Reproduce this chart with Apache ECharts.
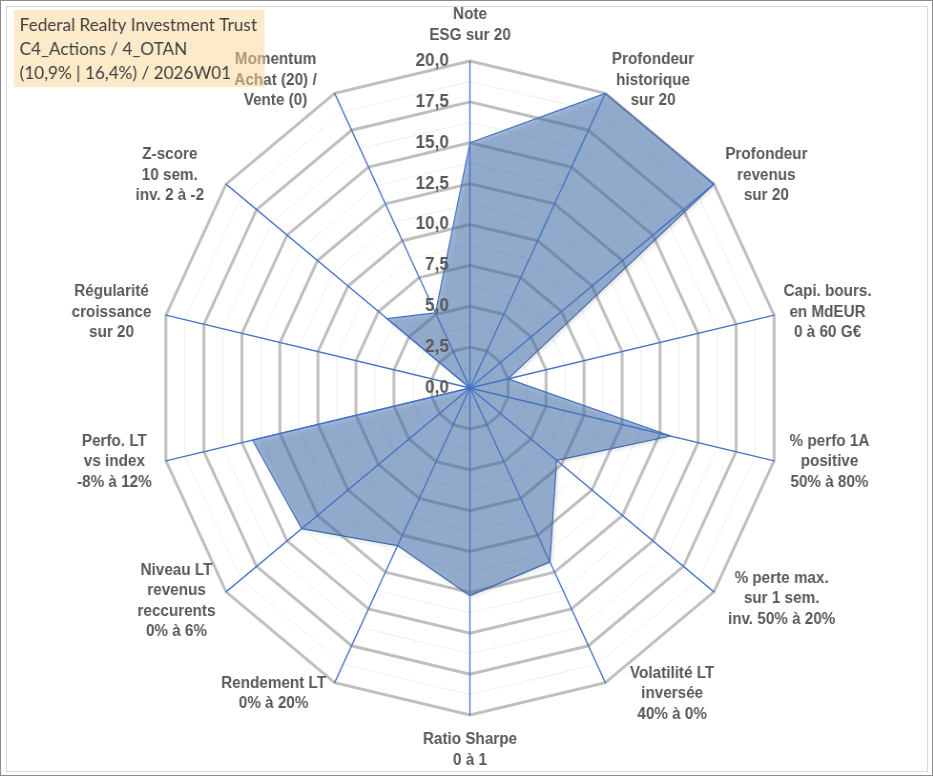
<!DOCTYPE html>
<html>
<head>
    <meta charset="utf-8">
    <script src="https://cdn.jsdelivr.net/npm/echarts@6/dist/echarts.min.js"></script>
    <style>
        html, body { margin: 0; padding: 0; background: #fff; }
        #frame { position: absolute; left: 0; top: 0; width: 933px; height: 776px; box-sizing: border-box;
                 border: 1px solid #8c8c8c; overflow: hidden; }
        #inner { position: absolute; left: 5px; top: 5px; right: 4px; bottom: 3px; border: 1px solid #d9d9d9; }
        /* the reference is a bit narrower than tall, so the chart is drawn wide then squeezed */
        #main { position: absolute; left: 0; top: 0; width: 978px; height: 776px;
                transform: scaleX(0.954); transform-origin: 0 0; }
    </style>
</head>
<body>
<div id="frame">
    <div id="inner"></div>
    <div id="main"></div>
</div>

<script type="text/javascript">
    // axes in clockwise order, starting at the top
    var axisNames = [
        'Note\nESG sur 20',
        'Profondeur\nhistorique\nsur 20',
        'Profondeur\nrevenus\nsur 20',
        'Capi. bours.\nen MdEUR\n0 à 60 G€',
        '% perfo 1A\npositive\n50% à 80%',
        '% perte max.\nsur 1 sem.\ninv. 50% à 20%',
        'Volatilité LT\ninversée\n40% à 0%',
        'Ratio Sharpe\n0 à 1',
        'Rendement LT\n0% à 20%',
        'Niveau LT\nrevenus\nreccurents\n0% à 6%',
        'Perfo. LT\nvs index\n-8% à 12%',
        'Régularité\ncroissance\nsur 20',
        'Z-score\n10 sem.\ninv. 2 à -2',
        'Momentum\nAchat (20) /\nVente (0)'
    ];
    var scores = [15, 20, 20, 2.5, 13.2, 7.1, 11.8, 12.7, 10.7, 13.8, 14.3, 0, 6.8, 5.1];
    var axisMax = 20;
    var titleLines = ['Federal Realty Investment Trust', 'C4_Actions / 4_OTAN', '(10,9% | 16,4%) / 2026W01'];

    // where each axis title sits relative to the end of its axis (px)
    var nameShift = [[0, -36], [50, -13], [55, -9], [56, -3], [58, 1], [71, 7], [70, 11],
                     [0, 35], [-64, 11], [-52, 9], [-54, 1], [-57, -3], [-59, -9], [-62, -13]];

    // echarts lays radar axes out counter-clockwise, so walk the list backwards after the first one
    var order = [0];
    for (var k = axisNames.length - 1; k > 0; k--) order.push(k);

    var center = [491.6, 387];
    var radius = 327;
    var font = '"Liberation Sans", Arial, sans-serif';

    function fmt(v) { return v.toFixed(1).replace('.', ','); }

    // the gap along the axis gives the vertical shift, padding adds what is left sideways
    var mainIndicators = order.map(function (i) {
        var ang = i * 2 * Math.PI / axisNames.length;
        var sx = Math.sin(ang), cy = Math.cos(ang);
        var dx = nameShift[i][0], dy = nameShift[i][1];
        var gap = Math.abs(cy) > 0.05 ? -dy / cy : 0;
        var rest = dx - gap * sx;
        return {
            name: axisNames[i],
            min: 0,
            max: axisMax,
            nameGap: gap,
            nameTextStyle: {
                padding: [0, Math.max(0, -2 * rest), 0, Math.max(0, 2 * rest)]
            }
        };
    });
    var plainIndicators = order.map(function (i) { return { name: '', min: 0, max: axisMax }; });
    var labelIndicators = order.map(function (i, n) {
        return n === 0 ? { name: '', min: 0, max: axisMax, axisLabel: { show: true } }
                       : { name: '', min: 0, max: axisMax };
    });

    var chart = echarts.init(document.getElementById('main'));
    chart.setOption({
        animation: false,
        title: {
            text: titleLines.join('\n'),
            left: 13.6,
            top: 9,
            padding: [3, 8, 2, 6],
            backgroundColor: 'rgba(250,214,145,0.5)',
            textStyle: {
                fontFamily: 'Lato, "Open Sans", sans-serif',
                fontWeight: 'normal',
                fontSize: 18,
                lineHeight: 24,
                color: '#404040'
            }
        },
        radar: [
            {   // faint minor rings
                center: center, radius: radius, shape: 'polygon', splitNumber: 16,
                indicator: plainIndicators,
                axisName: { show: false },
                axisLine: { show: false },
                axisTick: { show: false },
                axisLabel: { show: false },
                splitArea: { show: false },
                splitLine: { lineStyle: { color: '#eeeeee', width: 1 } }
            },
            {   // major rings and axis titles
                center: center, radius: radius, shape: 'polygon', splitNumber: 8,
                indicator: mainIndicators,
                axisName: {
                    color: '#595959',
                    fontFamily: font,
                    fontWeight: 'bold',
                    fontSize: 16,
                    lineHeight: 20.5,
                    align: 'center',
                    verticalAlign: 'middle'
                },
                axisLine: { show: false },
                axisTick: { show: false },
                axisLabel: { show: false },
                splitArea: { show: false },
                splitLine: { lineStyle: { color: '#bfbfbf', width: 3 } }
            },
            {   // blue spokes and value labels, above the filled area
                center: center, radius: radius, shape: 'polygon', splitNumber: 8, z: 5,
                indicator: labelIndicators,
                axisName: { show: false },
                axisLine: { lineStyle: { color: '#4472c4', width: 1.3 } },
                axisTick: { show: false },
                axisLabel: {
                    show: false,
                    color: '#595959',
                    fontFamily: font,
                    fontWeight: 'bold',
                    fontSize: 18,
                    align: 'right',
                    margin: 22,
                    showMinLabel: true,
                    showMaxLabel: true,
                    formatter: fmt
                },
                splitArea: { show: false },
                splitLine: { show: false }
            }
        ],
        series: [{
            type: 'radar',
            radarIndex: 1,
            symbol: 'none',
            lineStyle: { color: '#4472c4', width: 1.2 },
            areaStyle: {
                color: 'rgba(68,114,180,0.72)',
                shadowColor: 'rgba(0,0,0,0.25)',
                shadowBlur: 4,
                shadowOffsetX: 2,
                shadowOffsetY: 2
            },
            data: [{ value: order.map(function (i) { return scores[i]; }), name: titleLines[0] }]
        }]
    });
</script>
</body>
</html>
